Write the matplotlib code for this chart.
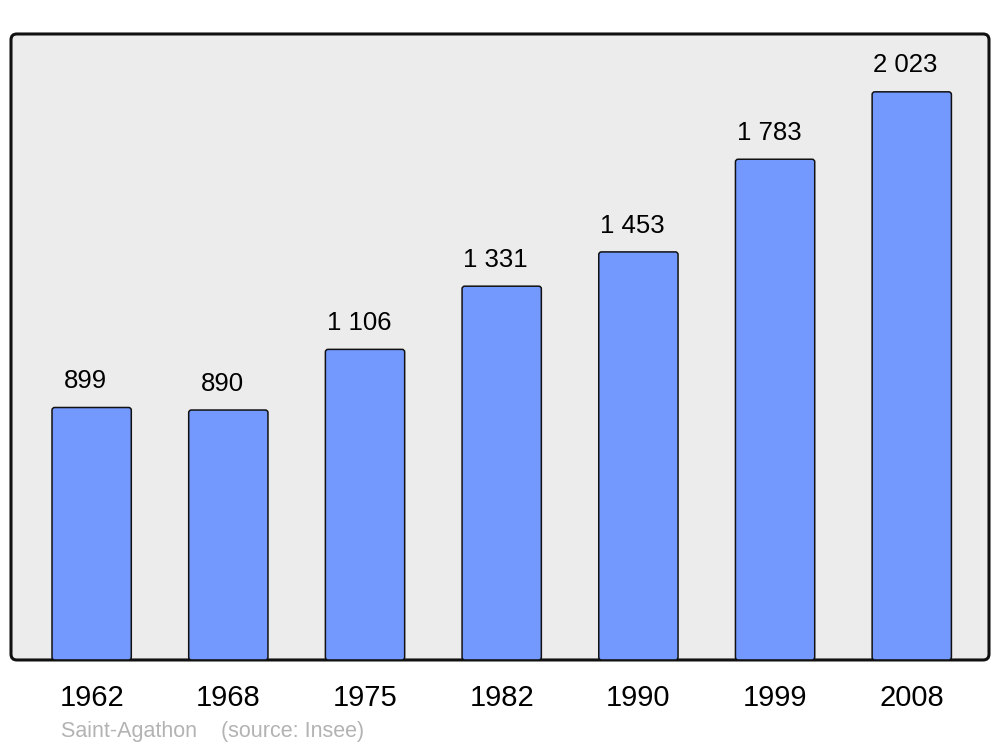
import numpy as np
import matplotlib
matplotlib.use("Agg")
import matplotlib.pyplot as plt
from matplotlib.patches import FancyBboxPatch

plt.rcParams['font.family'] = ['Liberation Sans', 'DejaVu Sans']

annees = ["1962", "1968", "1975", "1982", "1990", "1999", "2008"]
population = [899, 890, 1106, 1331, 1453, 1783, 2023]

fig = plt.figure(figsize=(10, 7.47), dpi=100)
ax = fig.add_axes([0.011, 0.1165, 0.978, 0.838])
ax.set_xlim(-0.59, 6.565)
ax.set_ylim(0, 2229)
ax.set_facecolor("none")

# fond arrondi
cadre = FancyBboxPatch((0, 0), 1, 1, boxstyle="round,pad=0,rounding_size=0.006",
                       transform=ax.transAxes, facecolor="#ececec",
                       edgecolor="#111111", linewidth=2.2, zorder=0,
                       mutation_aspect=978 / 626, clip_on=False)
ax.add_patch(cadre)

# rapport d'echelle y/x pour arrondir les coins des barres
px_x = 978 / (6.565 + 0.59)
px_y = 626 / 2229
aspect = px_x / px_y

largeur = 0.58
x = np.arange(len(annees))
for xi, v in zip(x, population):
    barre = FancyBboxPatch((xi - largeur / 2, 0), largeur, v,
                           boxstyle="round,pad=0,rounding_size=0.02",
                           mutation_aspect=aspect,
                           facecolor="#7399ff", edgecolor="#111111",
                           linewidth=1.1, zorder=2)
    ax.add_patch(barre)
    lab = f"{v:,}".replace(",", " ")
    ax.annotate(lab, (xi, v), xytext=(-4.5, 19), textcoords="offset points",
                ha="center", va="center", fontsize=18.5, color="black")

for s in ax.spines.values():
    s.set_visible(False)
ax.set_xticks(x)
ax.set_xticklabels(annees, fontsize=21)
ax.tick_params(axis="x", length=0, pad=17)
ax.set_yticks([])

fig.text(0.061, 0.021, "Saint-Agathon    (source: Insee)", fontsize=15.5,
         color="#b3b3b3", ha="left", va="center")

fig.savefig("out.png", dpi=100)
